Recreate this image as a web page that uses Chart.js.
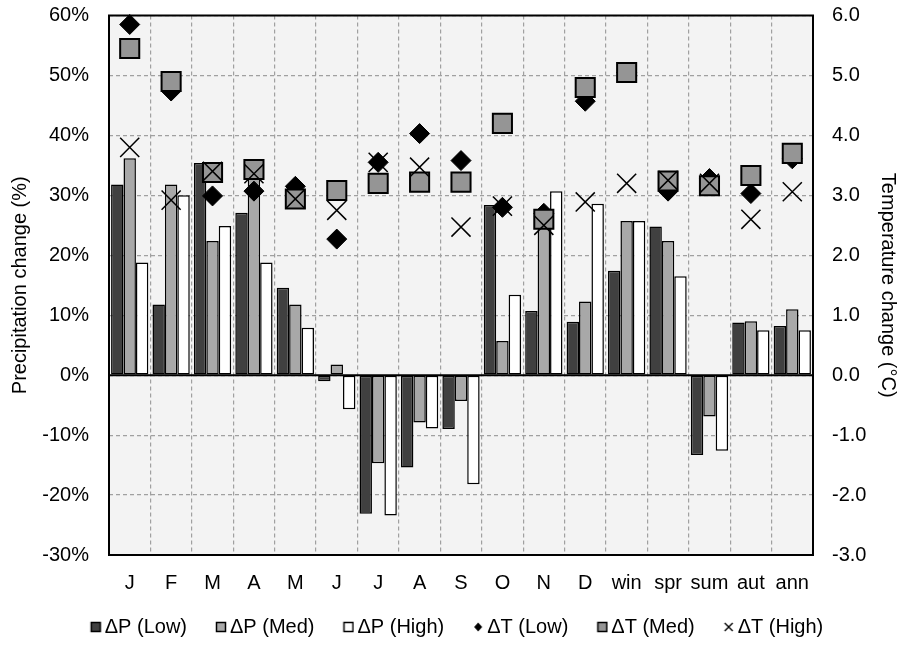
<!DOCTYPE html>
<html>
<head>
<meta charset="utf-8">
<script src="https://cdn.jsdelivr.net/npm/chart.js@4/dist/chart.umd.min.js"></script>
<style>
  html, body { margin: 0; padding: 0; background: #ffffff; }
  #wrap { width: 904px; height: 647px; }
</style>
</head>
<body>
<div id="wrap"><canvas id="chart" width="904" height="647"></canvas></div>
<script>
// Categories: months, seasons, annual
const categories = ['J', 'F', 'M', 'A', 'M', 'J', 'J', 'A', 'S', 'O', 'N', 'D', 'win', 'spr', 'sum', 'aut', 'ann'];

// Precipitation change (%)
const precipLow  = [31.8, 11.8, 35.4, 27.1, 14.6, -1.0, -23.1, -15.4, -9.0, 28.4, 10.7, 8.9, 17.4, 24.8, -13.3, 8.8, 8.2];
const precipMed  = [36.2, 31.8, 22.4, 33.5, 11.8, 1.8, -14.7, -7.9, -4.3, 5.7, 25.5, 12.3, 25.7, 22.4, -6.9, 9.0, 11.0];
const precipHigh = [18.8, 30.0, 24.9, 18.8, 7.9, -5.7, -23.4, -8.9, -18.2, 13.4, 30.7, 28.6, 25.7, 16.5, -12.6, 7.5, 7.5];

// Temperature change (°C)
const tempLow  = [5.85, 4.74, 2.99, 3.07, 3.15, 2.27, 3.55, 4.03, 3.58, 2.80, 2.70, 4.57, 5.05, 3.07, 3.28, 3.03, 3.61];
const tempMed  = [5.45, 4.90, 3.38, 3.43, 2.94, 3.08, 3.20, 3.22, 3.22, 4.20, 2.60, 4.80, 5.05, 3.24, 3.16, 3.33, 3.70];
const tempHigh = [3.80, 2.92, 3.40, 3.36, 2.94, 2.75, 3.55, 3.47, 2.47, 2.82, 2.50, 2.89, 3.20, 3.25, 3.20, 2.60, 3.06];

// Axis tick ranges
const precipTicks = { min: -30, max: 60, step: 10 };
const tempTicks = { min: -3, max: 6, step: 1 };

const FONT = "'Liberation Sans', Arial, sans-serif";
const TEXT = '#000000';
const C_LOW = '#404040';
const C_MED = '#a8a8a8';
const C_HIGH = '#ffffff';
const C_SQ = '#959595';

// Small glyphs for the legend entries; the mark sits in the right part of
// a wider transparent canvas so it ends just before the label text.
function glyph(kind, fill) {
  const c = document.createElement('canvas');
  c.width = 28; c.height = 12;
  const g = c.getContext('2d');
  g.translate(16, 0);
  g.strokeStyle = '#000';
  g.fillStyle = fill;
  if (kind === 'box') {
    g.lineWidth = 1.5;
    g.fillRect(1, 1, 10, 10);
    g.strokeRect(1.5, 1.5, 9, 9);
  } else if (kind === 'diamond') {
    g.beginPath();
    g.moveTo(6, 1.5); g.lineTo(10, 6); g.lineTo(6, 10.5); g.lineTo(2, 6); g.closePath();
    g.fill();
  } else if (kind === 'x') {
    g.lineWidth = 1.4;
    g.beginPath();
    g.moveTo(2, 2); g.lineTo(10, 10); g.moveTo(10, 2); g.lineTo(2, 10);
    g.stroke();
  }
  return c;
}
const legendGlyphs = [
  glyph('box', C_LOW), glyph('box', C_MED), glyph('box', C_HIGH),
  glyph('diamond', '#000'), glyph('box', C_SQ), glyph('x', '#000')
];

// Plot background, frame and zero line
const framePlugin = {
  id: 'frame',
  beforeDraw(chart) {
    const { ctx, chartArea: a } = chart;
    ctx.save();
    ctx.fillStyle = '#ffffff';
    ctx.fillRect(0, 0, chart.width, chart.height);
    ctx.fillStyle = '#f3f3f3';
    ctx.fillRect(a.left, a.top, a.right - a.left, a.bottom - a.top);
    ctx.restore();
  },
  beforeDatasetsDraw(chart) {
    const { ctx, chartArea: a } = chart;
    ctx.save();
    ctx.strokeStyle = '#000';
    ctx.lineWidth = 2;
    ctx.strokeRect(a.left, a.top, a.right - a.left, a.bottom - a.top);
    ctx.restore();
  },
  afterDatasetsDraw(chart) {
    const { ctx, chartArea: a } = chart;
    const y0 = chart.scales.y.getPixelForValue(0);
    ctx.save();
    ctx.strokeStyle = '#000';
    ctx.lineWidth = 2;
    ctx.beginPath();
    ctx.moveTo(a.left, y0);
    ctx.lineTo(a.right, y0);
    ctx.stroke();
    ctx.restore();
  }
};

const barCommon = {
  type: 'bar',
  yAxisID: 'y',
  borderColor: '#000',
  borderWidth: 1.5,
  borderSkipped: false,
  barPercentage: 1.0,
  categoryPercentage: 0.9,
  order: 10
};
const pointCommon = {
  type: 'line',
  yAxisID: 'y1',
  showLine: false,
  clip: false
};

// Vertical axes: no extra room above/below the plot for the end labels
function noVerticalPad(scale) {
  scale.paddingTop = 0;
  scale.paddingBottom = 0;
}

new Chart(document.getElementById('chart'), {
  data: {
    labels: categories,
    datasets: [
      { ...barCommon, label: 'ΔP (Low)', data: precipLow, backgroundColor: C_LOW },
      { ...barCommon, label: 'ΔP (Med)', data: precipMed, backgroundColor: C_MED },
      { ...barCommon, label: 'ΔP (High)', data: precipHigh, backgroundColor: C_HIGH },
      { ...pointCommon, label: 'ΔT (Low)', data: tempLow, order: 3,
        pointStyle: 'rectRot', pointRadius: 10, pointHoverRadius: 10,
        backgroundColor: '#000', borderColor: '#000', pointBorderWidth: 1 },
      { ...pointCommon, label: 'ΔT (Med)', data: tempMed, order: 2,
        pointStyle: 'rect', pointRadius: 13.5, pointHoverRadius: 13.5,
        backgroundColor: C_SQ, borderColor: '#000', pointBorderWidth: 2 },
      { ...pointCommon, label: 'ΔT (High)', data: tempHigh, order: 1,
        pointStyle: 'crossRot', pointRadius: 13.5, pointHoverRadius: 13.5,
        backgroundColor: '#000', borderColor: '#000', pointBorderWidth: 1.5 }
    ]
  },
  options: {
    responsive: false,
    animation: false,
    events: [],
    layout: { padding: { top: 15, left: 0, right: 0, bottom: 0 } },
    plugins: {
      tooltip: { enabled: false },
      legend: {
        position: 'bottom',
        labels: {
          usePointStyle: true,
          boxWidth: 14,
          boxHeight: 12,
          padding: 19,
          color: TEXT,
          font: { family: FONT, size: 20 },
          sort: (a, b) => a.datasetIndex - b.datasetIndex,
          generateLabels(chart) {
            const items = Chart.defaults.plugins.legend.labels.generateLabels(chart);
            items.forEach(it => { it.pointStyle = legendGlyphs[it.datasetIndex]; });
            return items;
          }
        }
      }
    },
    scales: {
      x: {
        offset: true,
        grid: { color: '#a0a0a0', lineWidth: 1.2, offset: true, drawTicks: false },
        border: { display: false, dash: [4, 3] },
        ticks: { color: TEXT, font: { family: FONT, size: 20 }, padding: 16, maxRotation: 0, autoSkip: false },
        afterFit(scale) { scale.height = 43; }
      },
      y: {
        position: 'left',
        min: precipTicks.min, max: precipTicks.max,
        grid: { color: '#a0a0a0', lineWidth: 1.2, drawTicks: false },
        border: { display: false, dash: [4, 3] },
        ticks: {
          stepSize: precipTicks.step, color: TEXT, padding: 20,
          font: { family: FONT, size: 20 },
          callback: v => v + '%'
        },
        title: {
          display: true, text: 'Precipitation change (%)', color: TEXT,
          font: { family: FONT, size: 20 }, padding: { top: 8, bottom: 0 }
        },
        afterFit(scale) { scale.width = 109; noVerticalPad(scale); }
      },
      y1: {
        position: 'right',
        min: tempTicks.min, max: tempTicks.max,
        grid: { drawOnChartArea: false, drawTicks: false },
        border: { display: false },
        ticks: {
          stepSize: tempTicks.step, color: TEXT, padding: 19,
          font: { family: FONT, size: 20 },
          callback: v => v.toFixed(1)
        },
        title: {
          display: true, text: 'Temperature change (°C)', color: TEXT,
          font: { family: FONT, size: 20 }, padding: { top: 4, bottom: 0 }
        },
        afterFit(scale) { scale.width = 91; noVerticalPad(scale); }
      }
    }
  },
  plugins: [framePlugin]
});
</script>
</body>
</html>
